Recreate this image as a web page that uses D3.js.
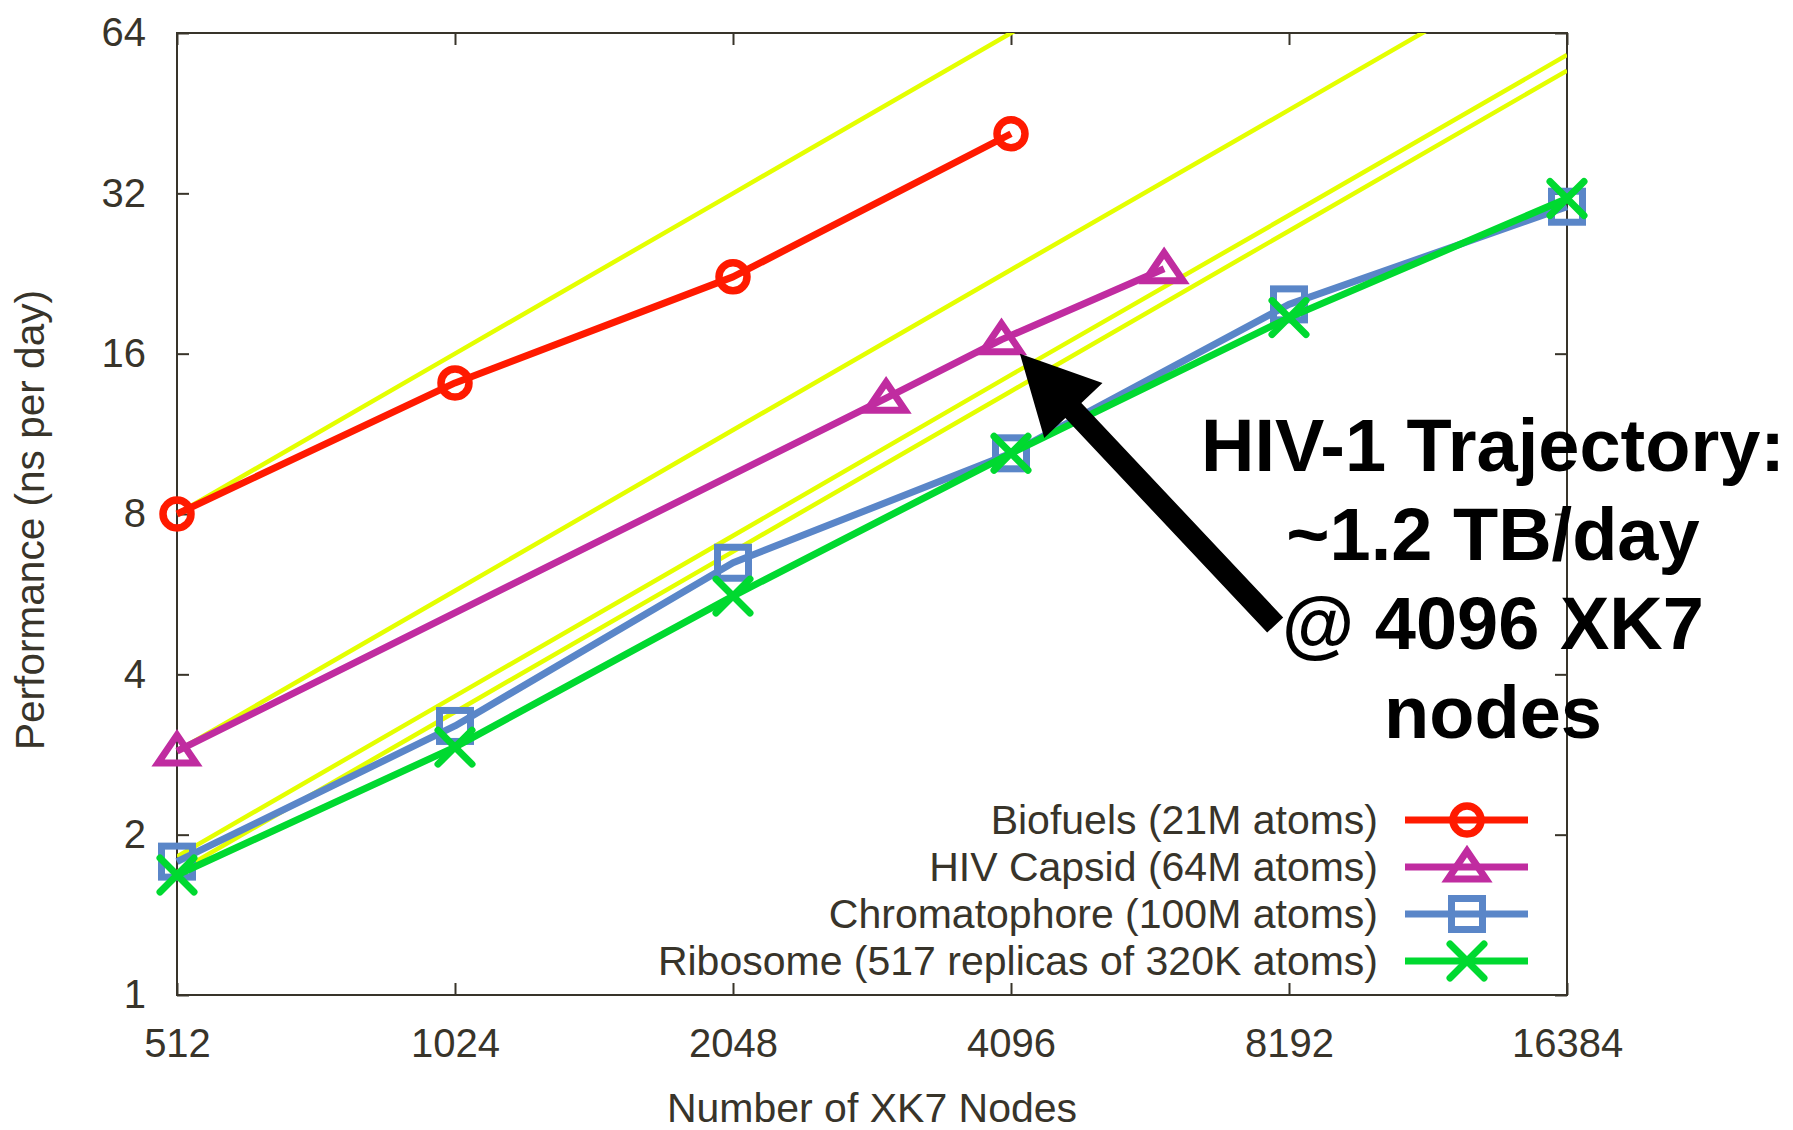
<!DOCTYPE html>
<html>
<head>
<meta charset="utf-8">
<script src="https://cdn.jsdelivr.net/npm/d3@7"></script>
<style>
  html, body { margin: 0; padding: 0; background: #fff; }
  svg { display: block; }
</style>
</head>
<body>
<div id="chart"></div>
<script>
// NAMD strong scaling on XK7 nodes (log2 / log2 axes)

// Data
const xTicks = [512, 1024, 2048, 4096, 8192, 16384];
const yTicks = [1, 2, 4, 8, 16, 32, 64];

const biofuelsNodes = [512, 1024, 2048, 4096];
const biofuelsPerf  = [8.0, 14.1, 22.3, 41.4];

const capsidNodes = [512, 3000, 4000, 6000];
const capsidPerf  = [2.87, 13.2, 17.0, 23.1];

const chromNodes = [512, 1024, 2048, 4096, 8192, 16384];
const chromPerf  = [1.78, 3.2, 6.48, 10.4, 19.8, 30.2];

const riboNodes = [512, 1024, 2048, 4096, 8192, 16384];
const riboPerf  = [1.68, 2.92, 5.61, 10.4, 18.7, 31.3];

// ideal (linear) scaling guides
const idealNodes = [512, 1024, 2048, 4096, 8192, 16384];
const idealBiofuels = [8.0, 16.0, 32.0, 64.0, 128, 256];
const idealCapsid   = [2.87, 5.74, 11.5, 23.0, 45.9, 91.8];
const idealChrom    = [1.82, 3.64, 7.28, 14.6, 29.1, 58.2];
const idealRibo     = [1.70, 3.40, 6.80, 13.6, 27.2, 54.4];

const seriesNames = [
  "Biofuels (21M atoms)",
  "HIV Capsid (64M atoms)",
  "Chromatophore (100M atoms)",
  "Ribosome (517 replicas of 320K atoms)"
];

const noteLines = ["HIV-1 Trajectory:", "~1.2 TB/day", "@ 4096 XK7", "nodes"];
const arrowTip  = [4188, 16.0];
const arrowTail = [7915, 4.95];

// Colors
const colorAxes = "#38342a";
const colorIdeal = "#e4ff00";
const colors = ["#ff1a00", "#c02ca0", "#5a86c8", "#00d930"];
const shapes = ["circle", "triangle", "square", "cross"];

// Dimensions
const width = 1793, height = 1130,
      marginTop = 33, marginRight = 226, marginBottom = 135, marginLeft = 177;
const font = "'Liberation Sans', Arial, sans-serif";

const x = d3.scaleLog().base(2)
    .domain([512, 16384])
    .range([marginLeft, width - marginRight]);

const y = d3.scaleLog().base(2)
    .domain([1, 64])
    .range([height - marginBottom, marginTop]);

const svg = d3.select("#chart")
  .append("svg")
    .attr("width", width)
    .attr("height", height)
    .attr("viewBox", [0, 0, width, height])
    .style("font-family", font);

svg.append("defs").append("clipPath")
    .attr("id", "plot-clip")
  .append("rect")
    .attr("x", marginLeft)
    .attr("y", marginTop)
    .attr("width", width - marginLeft - marginRight)
    .attr("height", height - marginTop - marginBottom);

// Axes (ticks inward, mirrored on top / right)
const fmt = d => String(d);

svg.append("g")
    .attr("transform", `translate(0,${height - marginBottom})`)
    .call(d3.axisBottom(x).tickValues(xTicks).tickFormat(fmt)
            .tickSizeInner(-12).tickSizeOuter(0).tickPadding(34))
    .call(g => g.select(".domain").remove())
    .call(g => g.selectAll("line").attr("stroke", colorAxes).attr("stroke-width", 2))
    .call(g => g.selectAll("text").attr("fill", colorAxes).attr("font-size", 40).attr("font-family", font));

svg.append("g")
    .attr("transform", `translate(0,${marginTop})`)
    .call(d3.axisTop(x).tickValues(xTicks).tickFormat("")
            .tickSizeInner(-12).tickSizeOuter(0))
    .call(g => g.select(".domain").remove())
    .call(g => g.selectAll("line").attr("stroke", colorAxes).attr("stroke-width", 2));

svg.append("g")
    .attr("transform", `translate(${marginLeft},0)`)
    .call(d3.axisLeft(y).tickValues(yTicks).tickFormat(fmt)
            .tickSizeInner(-12).tickSizeOuter(0).tickPadding(31))
    .call(g => g.select(".domain").remove())
    .call(g => g.selectAll("line").attr("stroke", colorAxes).attr("stroke-width", 2))
    .call(g => g.selectAll("text").attr("fill", colorAxes).attr("font-size", 40).attr("font-family", font));

svg.append("g")
    .attr("transform", `translate(${width - marginRight},0)`)
    .call(d3.axisRight(y).tickValues(yTicks).tickFormat("")
            .tickSizeInner(-12).tickSizeOuter(0))
    .call(g => g.select(".domain").remove())
    .call(g => g.selectAll("line").attr("stroke", colorAxes).attr("stroke-width", 2));

// Border
svg.append("rect")
    .attr("x", marginLeft)
    .attr("y", marginTop)
    .attr("width", width - marginLeft - marginRight)
    .attr("height", height - marginTop - marginBottom)
    .attr("fill", "none")
    .attr("stroke", colorAxes)
    .attr("stroke-width", 2);

// Axis titles
svg.append("text")
    .attr("x", (marginLeft + width - marginRight) / 2)
    .attr("y", 1122)
    .attr("text-anchor", "middle")
    .attr("font-size", 41)
    .attr("fill", colorAxes)
    .text("Number of XK7 Nodes");

svg.append("text")
    .attr("transform", `translate(44,520) rotate(-90)`)
    .attr("text-anchor", "middle")
    .attr("font-size", 40.6)
    .attr("fill", colorAxes)
    .text("Performance (ns per day)");

// Ideal scaling lines
const line = d3.line().x(d => x(d[0])).y(d => y(d[1]));
const ideals = [idealBiofuels, idealCapsid, idealChrom, idealRibo];

svg.append("g")
    .attr("clip-path", "url(#plot-clip)")
    .attr("fill", "none")
    .attr("stroke", colorIdeal)
    .attr("stroke-width", 4.5)
  .selectAll("path")
  .data(ideals)
  .join("path")
    .attr("d", vals => line(d3.zip(idealNodes, vals)));

// Series
const series = [
  d3.zip(biofuelsNodes, biofuelsPerf),
  d3.zip(capsidNodes, capsidPerf),
  d3.zip(chromNodes, chromPerf),
  d3.zip(riboNodes, riboPerf)
];

function marker(g, shape, color) {
  g.attr("fill", "none").attr("stroke", color).attr("stroke-width", 7);
  if (shape === "circle") {
    g.append("circle").attr("r", 14).attr("stroke-width", 7.5);
  } else if (shape === "triangle") {
    g.append("path").attr("d", "M0,-16L19,12L-19,12Z").attr("stroke-linejoin", "miter");
  } else if (shape === "square") {
    g.append("rect").attr("x", -15.5).attr("y", -15.5).attr("width", 31).attr("height", 31);
  } else {
    g.append("path").attr("d", "M-17,-17L17,17M-17,17L17,-17").attr("stroke-linecap", "round");
  }
}

series.forEach((pts, i) => {
  const g = svg.append("g");
  g.append("path")
      .attr("d", line(pts))
      .attr("fill", "none")
      .attr("stroke", colors[i])
      .attr("stroke-width", 7)
      .attr("stroke-linejoin", "round");
  g.selectAll("g.pt")
    .data(pts)
    .join("g")
      .attr("class", "pt")
      .attr("transform", d => `translate(${x(d[0])},${y(d[1])})`)
      .each(function() { marker(d3.select(this), shapes[i], colors[i]); });
});

// Legend
const legend = svg.append("g");
seriesNames.forEach((name, i) => {
  const ly = 820 + i * 47;
  legend.append("text")
      .attr("x", 1378)
      .attr("y", ly)
      .attr("dy", "0.35em")
      .attr("text-anchor", "end")
      .attr("font-size", 41)
      .attr("fill", colorAxes)
      .text(name);
  legend.append("line")
      .attr("x1", 1405).attr("x2", 1528)
      .attr("y1", ly).attr("y2", ly)
      .attr("stroke", colors[i])
      .attr("stroke-width", 7);
  marker(legend.append("g").attr("transform", `translate(1467,${ly})`), shapes[i], colors[i]);
});

// Arrow annotation
const tip = [x(arrowTip[0]), y(arrowTip[1])];
const tail = [x(arrowTail[0]), y(arrowTail[1])];
const dx = tip[0] - tail[0], dy = tip[1] - tail[1];
const len = Math.hypot(dx, dy);
const ux = dx / len, uy = dy / len, nx = -uy, ny = ux;
const headLen = 78, headHalf = 40, shaftHalf = 11;
const bx = tip[0] - ux * headLen, by = tip[1] - uy * headLen;

svg.append("path")
    .attr("fill", "#000")
    .attr("d", d3.line()([
      [tail[0] + nx * shaftHalf, tail[1] + ny * shaftHalf],
      [bx + nx * shaftHalf, by + ny * shaftHalf],
      [bx + nx * headHalf, by + ny * headHalf],
      tip,
      [bx - nx * headHalf, by - ny * headHalf],
      [bx - nx * shaftHalf, by - ny * shaftHalf],
      [tail[0] - nx * shaftHalf, tail[1] - ny * shaftHalf]
    ]) + "Z");

svg.append("g")
    .attr("font-size", 74)
    .attr("font-weight", "bold")
    .attr("fill", "#000")
    .attr("text-anchor", "middle")
  .selectAll("text")
  .data(noteLines)
  .join("text")
    .attr("x", 1493)
    .attr("y", (d, i) => 471 + i * 89)
    .text(d => d);
</script>
</body>
</html>
